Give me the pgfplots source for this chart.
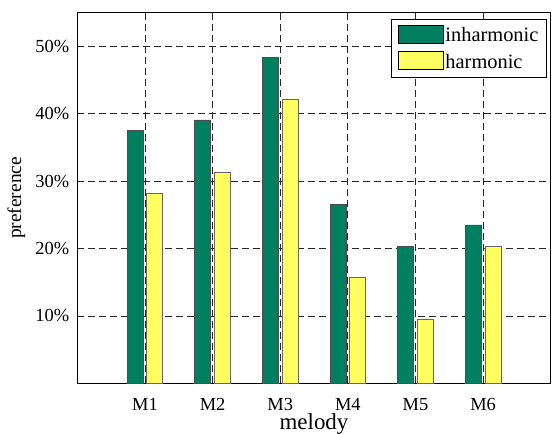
\documentclass[border=0pt]{standalone}
\usepackage{pgfplots}
\pgfplotsset{compat=1.18}
\usepackage{fontspec}
\setmainfont{Liberation Serif}
\definecolor{inh}{RGB}{0,128,96}
\definecolor{har}{RGB}{255,255,96}
\begin{document}
\fontsize{18}{20}\selectfont
\begin{tikzpicture}
\begin{axis}[
  scale only axis,
  width=473.4bp, height=370.6bp,
  xmin=0, xmax=7, ymin=0, ymax=55,
  xtick={1,2,3,4,5,6},
  xticklabels={M1,M2,M3,M4,M5,M6},
  ytick={10,20,30,40,50},
  yticklabels={10\%,20\%,30\%,40\%,50\%},
  xmajorgrids, ymajorgrids,
  grid style={black!85, dash pattern=on 7bp off 4bp, line width=0.7pt},
  major tick length=0pt,
  axis line style={black, line width=1pt},
  xlabel={melody}, ylabel={preference},
  xticklabel style={font=\fontsize{18.5}{20}\selectfont, yshift=-9bp},
  yticklabel style={font=\fontsize{18.5}{20}\selectfont, xshift=-2bp},
  xlabel style={font=\fontsize{23}{25}\selectfont, yshift=9bp},
  ylabel style={font=\fontsize{19.5}{21}\selectfont, yshift=-2bp},
  legend style={at={(0.993,0.982)}, anchor=north east, draw=black, line width=0.9pt,
    font=\fontsize{20.5}{22}\selectfont, inner xsep=7bp, inner ysep=5bp, row sep=5bp,
    nodes={inner sep=1.5bp},
    /tikz/every even column/.append style={column sep=1bp}},
  legend cell align=left,
  legend image code/.code={\draw[#1, draw=black, line width=0.6pt] (0bp,-7bp) rectangle (45bp,11bp);},
  every axis plot/.append style={ybar, bar width=0.236, line width=0.6pt},
]
\addplot[fill=inh, draw=black!70, bar shift=-0.145] coordinates {(1,37.5) (2,39.1) (3,48.4) (4,26.5) (5,20.3) (6,23.5)};
\addlegendentry{inharmonic}
\addplot[fill=har, draw=black!60, bar shift=0.145] coordinates {(1,28.2) (2,31.3) (3,42.2) (4,15.7) (5,9.5) (6,20.3)};
\addlegendentry{harmonic}
\coordinate (bl) at (rel axis cs:0,0);
\coordinate (tr) at (rel axis cs:1,1);
\end{axis}
\pgfresetboundingbox
\path ([shift={(-77.3bp,-50.7bp)}]bl) rectangle ([shift={(2.3bp,12.7bp)}]tr);
\end{tikzpicture}
\end{document}
